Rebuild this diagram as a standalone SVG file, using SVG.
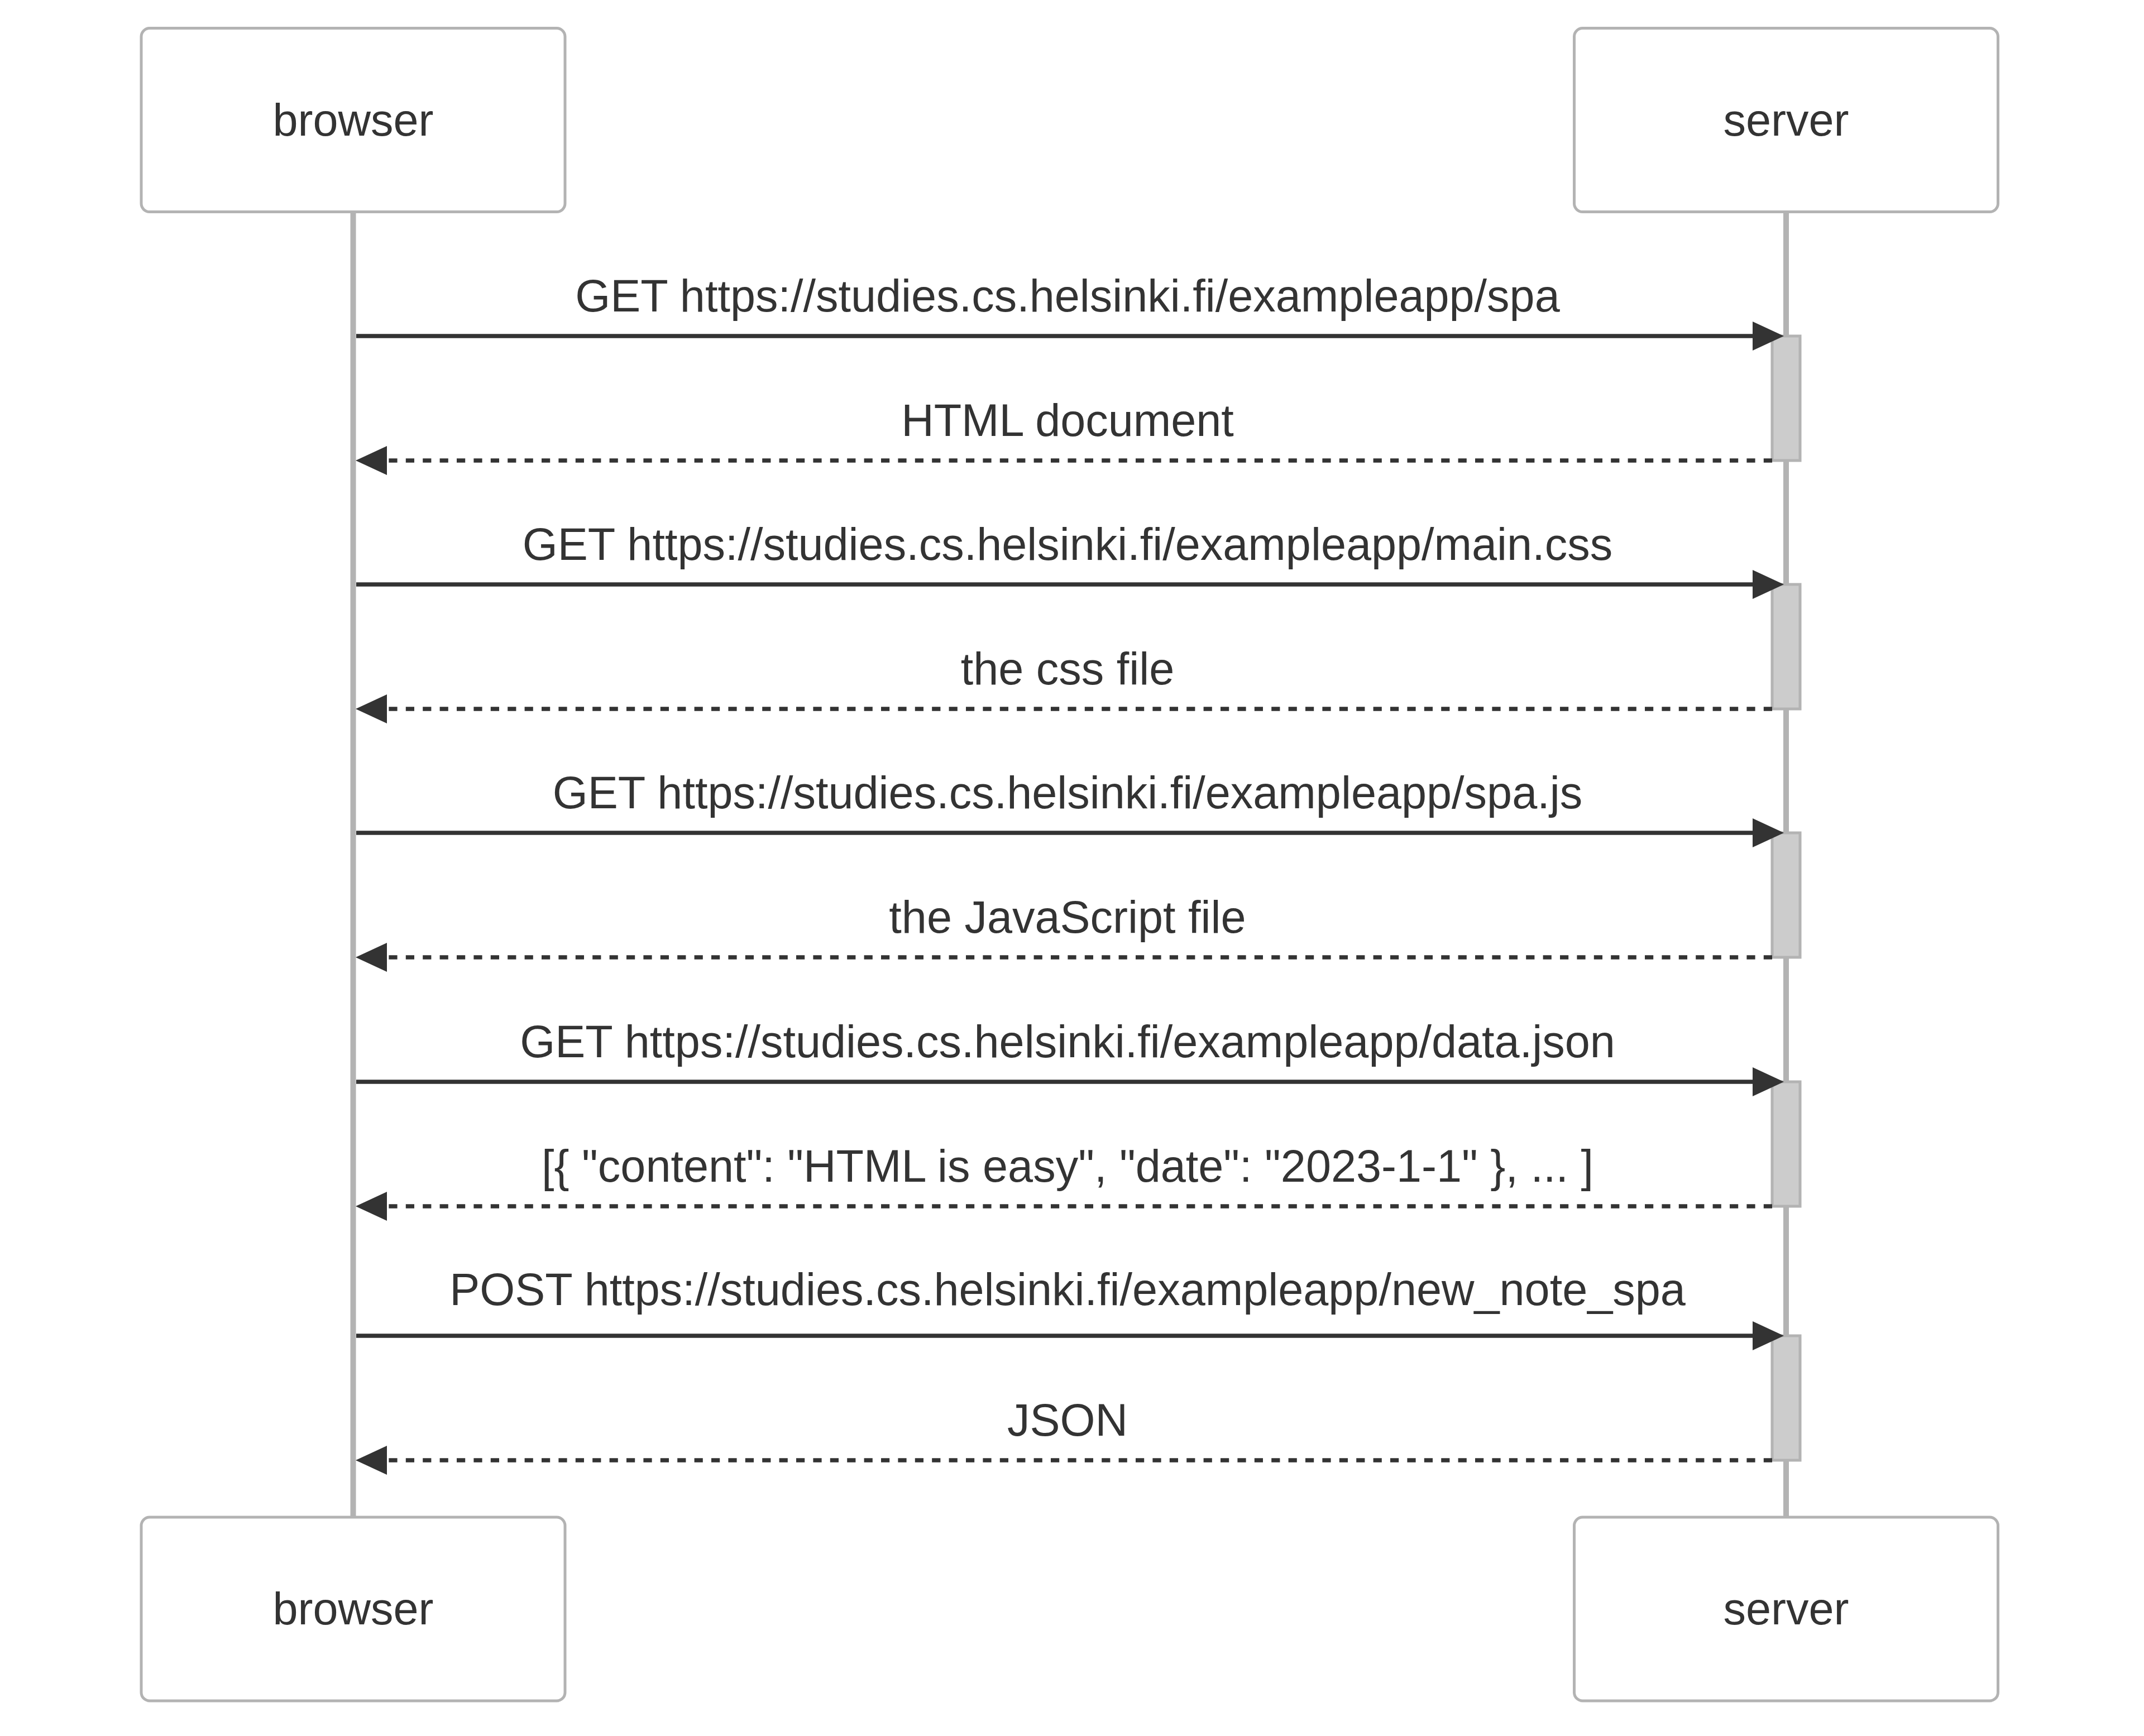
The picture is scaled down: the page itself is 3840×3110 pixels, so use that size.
<svg xmlns="http://www.w3.org/2000/svg" width="3840" height="3110" viewBox="0 0 3840 3110">
<style>
.actor{fill:#ffffff;stroke:#b3b3b3;stroke-width:5}
.alabel{font-family:"Liberation Sans",Arial,sans-serif;font-size:81px;fill:#333333;text-anchor:middle}
.life{stroke:#b3b3b3;stroke-width:10}
.act{fill:#cccccc;stroke:#b3b3b3;stroke-width:5}
.msg{stroke:#333333;stroke-width:7.6;fill:none}
.dash{stroke-dasharray:15.2 15.2}
.mlabel{font-family:"Liberation Sans",Arial,sans-serif;font-size:81px;fill:#333333;text-anchor:middle}
</style>
<defs>
<marker id="arrow" markerUnits="userSpaceOnUse" markerWidth="60" markerHeight="60" refX="46" refY="26" orient="auto">
<path d="M0,0 L56,26 L0,52 z" fill="#333333"/>
</marker>
</defs>
<rect width="3840" height="3110" fill="#ffffff"/>
<g id="lifelines">
<line class="life" x1="632.5" y1="380" x2="632.5" y2="2718"/>
<line class="life" x1="3199" y1="380" x2="3199" y2="2718"/>
</g>
<g id="browser-top">
<rect class="actor" x="253" y="50.6" width="759" height="329" rx="15" ry="15"/>
<text class="alabel" x="632.5" y="243">browser</text>
</g>
<g id="server-top">
<rect class="actor" x="2819.5" y="50.6" width="759" height="329" rx="15" ry="15"/>
<text class="alabel" x="3199" y="243">server</text>
</g>
<g id="browser-bottom">
<rect class="actor" x="253" y="2718" width="759" height="329" rx="15" ry="15"/>
<text class="alabel" x="632.5" y="2910">browser</text>
</g>
<g id="server-bottom">
<rect class="actor" x="2819.5" y="2718" width="759" height="329" rx="15" ry="15"/>
<text class="alabel" x="3199" y="2910">server</text>
</g>
<g id="activations">
<rect class="act" x="3174" y="602" width="50" height="223"/>
<rect class="act" x="3174" y="1047" width="50" height="223"/>
<rect class="act" x="3174" y="1492" width="50" height="223"/>
<rect class="act" x="3174" y="1938" width="50" height="223"/>
<rect class="act" x="3174" y="2393" width="50" height="223"/>
</g>
<g id="connectors">
<line class="msg" x1="638" y1="602" x2="3185" y2="602" marker-end="url(#arrow)"/>
<line class="msg dash" x1="3174" y1="825" x2="647" y2="825" marker-end="url(#arrow)"/>
<line class="msg" x1="638" y1="1047" x2="3185" y2="1047" marker-end="url(#arrow)"/>
<line class="msg dash" x1="3174" y1="1270" x2="647" y2="1270" marker-end="url(#arrow)"/>
<line class="msg" x1="638" y1="1492" x2="3185" y2="1492" marker-end="url(#arrow)"/>
<line class="msg dash" x1="3174" y1="1715" x2="647" y2="1715" marker-end="url(#arrow)"/>
<line class="msg" x1="638" y1="1938" x2="3185" y2="1938" marker-end="url(#arrow)"/>
<line class="msg dash" x1="3174" y1="2161" x2="647" y2="2161" marker-end="url(#arrow)"/>
<line class="msg" x1="638" y1="2393" x2="3185" y2="2393" marker-end="url(#arrow)"/>
<line class="msg dash" x1="3174" y1="2616" x2="647" y2="2616" marker-end="url(#arrow)"/>
</g>
<g id="labels">
<text class="mlabel" x="1912" y="558">GET https://studies.cs.helsinki.fi/exampleapp/spa</text>
<text class="mlabel" x="1912" y="781">HTML document</text>
<text class="mlabel" x="1912" y="1003">GET https://studies.cs.helsinki.fi/exampleapp/main.css</text>
<text class="mlabel" x="1912" y="1226">the css file</text>
<text class="mlabel" x="1912" y="1448">GET https://studies.cs.helsinki.fi/exampleapp/spa.js</text>
<text class="mlabel" x="1912" y="1671">the JavaScript file</text>
<text class="mlabel" x="1912" y="1894">GET https://studies.cs.helsinki.fi/exampleapp/data.json</text>
<text class="mlabel" x="1912" y="2117">[{ "content": "HTML is easy", "date": "2023-1-1" }, ... ]</text>
<text class="mlabel" x="1912" y="2338">POST https://studies.cs.helsinki.fi/exampleapp/new_note_spa</text>
<text class="mlabel" x="1912" y="2572">JSON</text>
</g>
</svg>
